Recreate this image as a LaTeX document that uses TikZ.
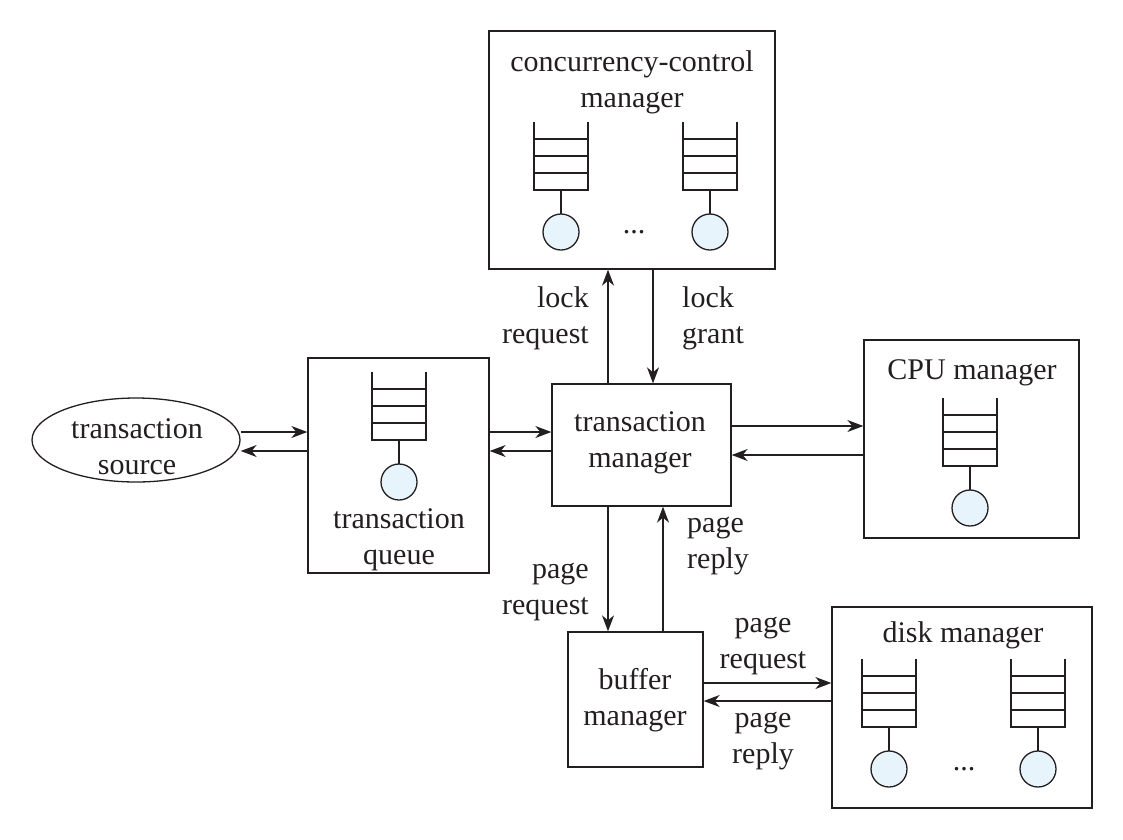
\documentclass[tikz,border=0pt]{standalone}
\usepackage{fontspec}
\setmainfont{Liberation Serif}
\usetikzlibrary{arrows.meta,shapes.geometric}
\definecolor{ink}{RGB}{35,31,32}
\definecolor{qfill}{RGB}{232,244,251}
\tikzset{
  box/.style={draw=ink, line width=1.3pt, rectangle, inner sep=0pt},
  lbl/.style={font=\fontsize{30}{36}\selectfont, text=ink, align=center, inner sep=0pt},
  arr/.style={-{Stealth[length=16pt,width=12pt,inset=5pt]}, line width=1.3pt, draw=ink},
  qicon/.pic={
    \draw[ink, line width=1.3pt] (-27,0) -- (-27,68) -- (27,68) -- (27,0);
    \foreach \yy in {17,34,51} \draw[ink, line width=1.3pt] (-27,\yy) -- (27,\yy);
    \draw[ink, line width=1.3pt] (0,68) -- (0,92);
    \draw[ink, line width=1.3pt, fill=qfill] (0,110) circle (18pt);
  }
}
\begin{document}
\begin{tikzpicture}[x=1pt,y=-1pt]
\useasboundingbox (0,0) rectangle (1123,839);

% boxes
\node[box, minimum width=286pt, minimum height=238pt] (cc) at (632,150) {};
\node[draw=ink, line width=1.3pt, ellipse, inner sep=0pt, minimum width=208pt, minimum height=84pt] (ts) at (136,440) {};
\node[box, minimum width=181pt, minimum height=215pt] (tq) at (398.5,465.5) {};
\node[box, minimum width=179pt, minimum height=122pt] (tm) at (641.5,445) {};
\node[box, minimum width=215pt, minimum height=198pt] (cpu) at (971.5,439) {};
\node[box, minimum width=135pt, minimum height=135pt] (buf) at (635.5,699.5) {};
\node[box, minimum width=260pt, minimum height=201pt] (disk) at (962,707.5) {};

% queue icons
\pic at (561,122) {qicon};
\pic at (710,122) {qicon};
\pic at (399,372) {qicon};
\pic at (970,398) {qicon};
\pic at (889,659) {qicon};
\pic at (1038,659) {qicon};
\node[lbl] (ccdots) at (634,232) {...};
\node[lbl] (dkdots) at (964,769) {...};

% texts
\node[lbl] (cct) at (632,82) {concurrency-control\\manager};
\node[lbl] (tst) at (137,447) {transaction\\source};
\node[lbl] (tqt) at (399,540) {transaction\\queue};
\node[lbl] (tmt) at (640,443) {transaction\\manager};
\node[lbl] (cput) at (972,373) {CPU manager};
\node[lbl] (buft) at (635,700) {buffer\\manager};
\node[lbl] (diskt) at (963,635) {disk manager};

% connector labels
\node[lbl, anchor=east, align=right] (lreq) at (589,318) {lock\\request};
\node[lbl, anchor=west, align=left] (lgr) at (682,318) {lock\\grant};
\node[lbl, anchor=west, align=left] (prep) at (687,546) {page\\reply};
\node[lbl, anchor=east, align=right] (preq) at (589,592) {page\\request};
\node[lbl] (preq2) at (763,646) {page\\request};
\node[lbl] (prep2) at (763,741) {page\\reply};

% connectors
\draw[arr] ([yshift=13pt]tm.west -| ts.east) -- ([yshift=13pt]tm.west -| tq.west);
\draw[arr] ([yshift=-6pt]tm.west -| tq.west) -- ([yshift=-6pt]tm.west -| ts.east);
\draw[arr] ([yshift=13pt]tm.west -| tq.east) -- ([yshift=13pt]tm.west);
\draw[arr] ([yshift=-6pt]tm.west) -- ([yshift=-6pt]tm.west -| tq.east);
\draw[arr] ([yshift=19pt]tm.east) -- ([yshift=19pt]tm.east -| cpu.west);
\draw[arr] ([yshift=-10pt]tm.east -| cpu.west) -- ([yshift=-10pt]tm.east);
\draw[arr] ([xshift=-33.5pt]tm.north) -- ([xshift=-33.5pt]tm.north |- cc.south);
\draw[arr] ([xshift=11.5pt]tm.north |- cc.south) -- ([xshift=11.5pt]tm.north);
\draw[arr] ([xshift=-33.5pt]tm.south) -- ([xshift=-33.5pt]tm.south |- buf.north);
\draw[arr] ([xshift=21.5pt]tm.south |- buf.north) -- ([xshift=21.5pt]tm.south);
\draw[arr] ([yshift=16.5pt]buf.east) -- ([yshift=16.5pt]buf.east -| disk.west);
\draw[arr] ([yshift=-1.5pt]buf.east -| disk.west) -- ([yshift=-1.5pt]buf.east);
\end{tikzpicture}
\end{document}
